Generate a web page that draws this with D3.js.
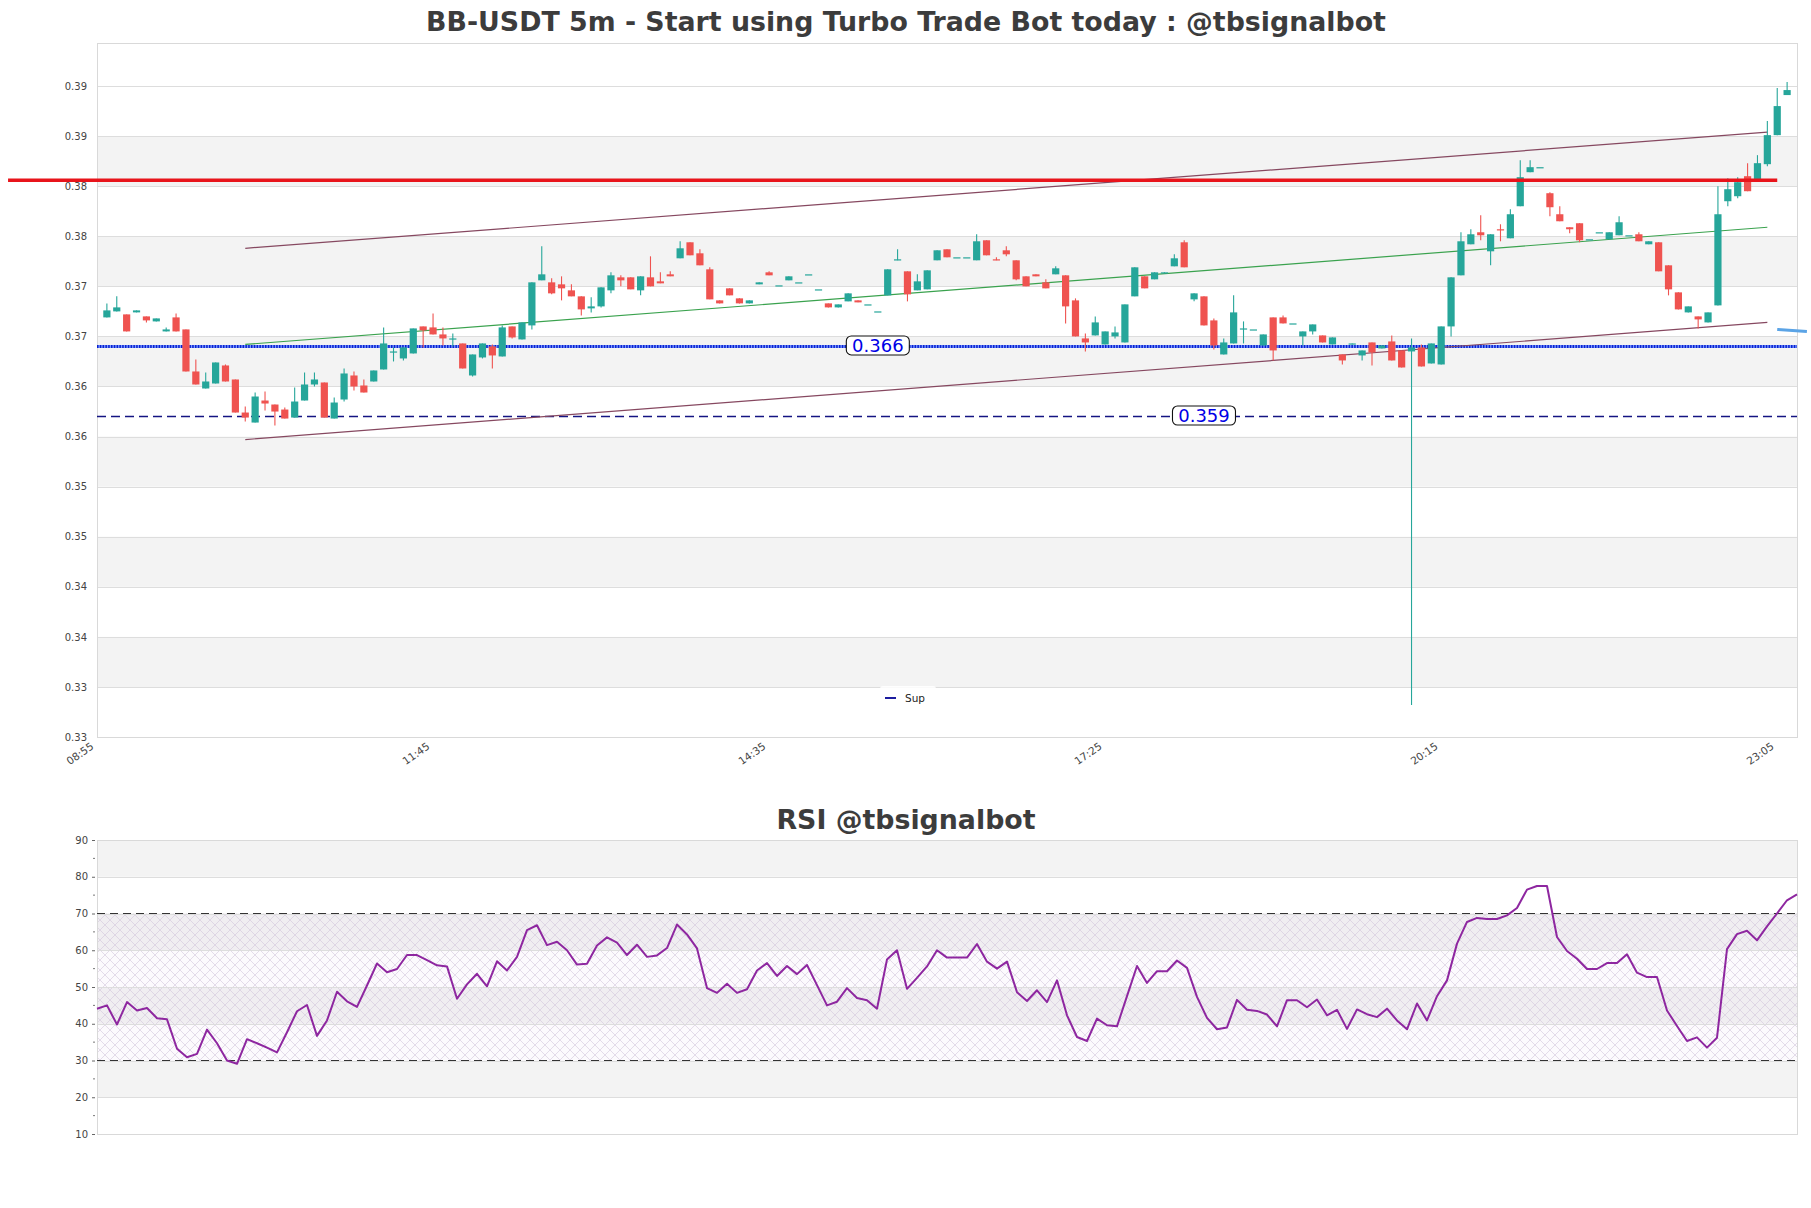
<!DOCTYPE html>
<html><head><meta charset="utf-8">
<script src="https://cdn.jsdelivr.net/npm/d3@7"></script>
<style>html,body{margin:0;padding:0;background:#fff;} svg{display:block;font-family:"DejaVu Sans",sans-serif;}</style>
</head><body>
<svg id="chart" width="1811" height="1208"></svg>
<script>
// ---------------- DATA ----------------
const startTime = "09:00";      // time of first candle, 5 min bars
const xTickLabels = ["08:55","11:45","14:35","17:25","20:15","23:05"];
const yTickValues = [0.327,0.332,0.337,0.342,0.347,0.352,0.357,0.362,0.367,0.372,0.377,0.382,0.387,0.392];
const rsiTickValues = [10,20,30,40,50,60,70,80,90];

const opens = [0.3689,0.3695,0.3692,0.3694,0.3690,0.3685,0.3675,0.3689,0.3677,0.3635,
0.3618,0.3623,0.3641,0.3627,0.3594,0.3584,0.3606,0.3602,0.3597,0.3589,
0.3606,0.3622,0.3624,0.3588,0.3607,0.3631,0.3621,0.3625,0.3637,0.3654,
0.3648,0.3653,0.3680,0.3679,0.3672,0.3667,0.3663,0.3631,0.3649,0.3660,
0.3650,0.3680,0.3667,0.3681,0.3726,0.3724,0.3722,0.3716,0.3710,0.3698,
0.3700,0.3716,0.3729,0.3729,0.3716,0.3729,0.3725,0.3732,0.3748,0.3764,
0.3753,0.3737,0.3706,0.3718,0.3708,0.3703,0.3722,0.3734,0.3721,0.3726,
0.3724,0.3732,0.3717,0.3703,0.3699,0.3705,0.3706,0.3702,0.3695,0.3711,
0.3746,0.3735,0.3716,0.3717,0.3746,0.3757,0.3749,0.3749,0.3746,0.3766,
0.3747,0.3756,0.3746,0.3730,0.3732,0.3724,0.3732,0.3731,0.3706,0.3668,
0.3671,0.3662,0.3670,0.3664,0.3710,0.3730,0.3727,0.3733,0.3740,0.3764,
0.3707,0.3710,0.3686,0.3652,0.3663,0.3677,0.3677,0.3661,0.3689,0.3689,
0.3683,0.3670,0.3675,0.3671,0.3662,0.3652,0.3662,0.3651,0.3664,0.3658,
0.3665,0.3656,0.3655,0.3659,0.3643,0.3642,0.3680,0.3731,0.3762,0.3774,
0.3755,0.3777,0.3768,0.3800,0.3834,0.3839,0.3813,0.3792,0.3779,0.3783,
0.3767,0.3774,0.3767,0.3771,0.3771,0.3772,0.3762,0.3764,0.3741,0.3714,
0.3694,0.3690,0.3684,0.3701,0.3805,0.3810,0.3830,0.3826,0.3842,0.3871,
0.3911];
const highs = [0.3703,0.3710,0.3692,0.3696,0.3690,0.3688,0.3679,0.3693,0.3677,0.3647,
0.3634,0.3644,0.3642,0.3627,0.3600,0.3614,0.3615,0.3602,0.3599,0.3619,
0.3634,0.3634,0.3624,0.3609,0.3638,0.3635,0.3627,0.3636,0.3679,0.3659,
0.3659,0.3678,0.3680,0.3693,0.3679,0.3673,0.3663,0.3652,0.3663,0.3662,
0.3681,0.3680,0.3684,0.3724,0.3760,0.3728,0.3730,0.3722,0.3710,0.3709,
0.3719,0.3734,0.3731,0.3729,0.3730,0.3750,0.3734,0.3735,0.3765,0.3764,
0.3757,0.3739,0.3706,0.3718,0.3708,0.3706,0.3724,0.3735,0.3721,0.3730,
0.3724,0.3732,0.3717,0.3703,0.3702,0.3713,0.3706,0.3702,0.3695,0.3737,
0.3757,0.3735,0.3732,0.3736,0.3756,0.3757,0.3749,0.3749,0.3772,0.3766,
0.3749,0.3760,0.3746,0.3730,0.3732,0.3727,0.3740,0.3731,0.3708,0.3673,
0.3690,0.3675,0.3680,0.3702,0.3739,0.3730,0.3734,0.3734,0.3752,0.3766,
0.3713,0.3710,0.3688,0.3668,0.3711,0.3685,0.3677,0.3672,0.3689,0.3691,
0.3683,0.3675,0.3682,0.3671,0.3669,0.3652,0.3663,0.3656,0.3664,0.3661,
0.3671,0.3656,0.3668,0.3662,0.3663,0.3680,0.3729,0.3774,0.3777,0.3791,
0.3772,0.3782,0.3797,0.3846,0.3846,0.3839,0.3814,0.3800,0.3779,0.3783,
0.3767,0.3774,0.3774,0.3790,0.3771,0.3774,0.3765,0.3764,0.3741,0.3714,
0.3700,0.3690,0.3694,0.3820,0.3828,0.3829,0.3843,0.3851,0.3885,0.3918,
0.3924];
const lows = [0.3689,0.3695,0.3675,0.3694,0.3684,0.3685,0.3675,0.3675,0.3635,0.3622,
0.3618,0.3623,0.3625,0.3594,0.3585,0.3584,0.3596,0.3581,0.3588,0.3589,
0.3606,0.3620,0.3589,0.3588,0.3605,0.3616,0.3614,0.3625,0.3637,0.3645,
0.3646,0.3653,0.3659,0.3672,0.3661,0.3660,0.3638,0.3630,0.3648,0.3638,
0.3650,0.3668,0.3667,0.3677,0.3726,0.3712,0.3706,0.3710,0.3691,0.3694,
0.3699,0.3713,0.3720,0.3717,0.3711,0.3720,0.3723,0.3730,0.3748,0.3751,
0.3741,0.3707,0.3703,0.3711,0.3703,0.3703,0.3722,0.3731,0.3721,0.3726,
0.3724,0.3732,0.3717,0.3699,0.3699,0.3705,0.3704,0.3702,0.3695,0.3711,
0.3746,0.3705,0.3716,0.3717,0.3746,0.3749,0.3749,0.3749,0.3746,0.3751,
0.3746,0.3750,0.3726,0.3720,0.3730,0.3718,0.3732,0.3683,0.3670,0.3655,
0.3671,0.3662,0.3668,0.3664,0.3710,0.3718,0.3727,0.3733,0.3740,0.3739,
0.3705,0.3681,0.3657,0.3652,0.3663,0.3663,0.3677,0.3661,0.3646,0.3683,
0.3683,0.3661,0.3672,0.3664,0.3662,0.3642,0.3662,0.3646,0.3641,0.3658,
0.3646,0.3639,0.3302,0.3640,0.3643,0.3642,0.3670,0.3731,0.3762,0.3766,
0.3741,0.3765,0.3768,0.3800,0.3834,0.3839,0.3790,0.3785,0.3773,0.3764,
0.3767,0.3774,0.3767,0.3771,0.3771,0.3765,0.3762,0.3735,0.3711,0.3697,
0.3694,0.3678,0.3684,0.3701,0.3800,0.3808,0.3815,0.3826,0.3840,0.3871,
0.3911];
const closes = [0.3696,0.3699,0.3675,0.3696,0.3686,0.3688,0.3677,0.3675,0.3635,0.3622,
0.3625,0.3644,0.3625,0.3594,0.3589,0.3610,0.3603,0.3595,0.3588,0.3605,
0.3622,0.3627,0.3589,0.3604,0.3633,0.3620,0.3614,0.3636,0.3663,0.3655,
0.3659,0.3678,0.3676,0.3672,0.3668,0.3668,0.3638,0.3652,0.3663,0.3651,
0.3679,0.3669,0.3684,0.3724,0.3732,0.3713,0.3718,0.3710,0.3697,0.3700,
0.3719,0.3731,0.3726,0.3717,0.3730,0.3720,0.3723,0.3730,0.3758,0.3751,
0.3741,0.3707,0.3703,0.3711,0.3703,0.3706,0.3724,0.3731,0.3721,0.3730,
0.3724,0.3732,0.3717,0.3699,0.3702,0.3713,0.3704,0.3702,0.3695,0.3737,
0.3747,0.3712,0.3725,0.3736,0.3756,0.3749,0.3749,0.3749,0.3765,0.3751,
0.3746,0.3752,0.3727,0.3720,0.3730,0.3718,0.3738,0.3700,0.3670,0.3664,
0.3684,0.3675,0.3674,0.3702,0.3739,0.3718,0.3734,0.3734,0.3748,0.3739,
0.3713,0.3681,0.3661,0.3664,0.3694,0.3678,0.3677,0.3672,0.3656,0.3683,
0.3683,0.3675,0.3682,0.3664,0.3669,0.3646,0.3663,0.3656,0.3654,0.3661,
0.3646,0.3639,0.3659,0.3640,0.3663,0.3680,0.3729,0.3765,0.3772,0.3771,
0.3772,0.3776,0.3792,0.3829,0.3839,0.3839,0.3799,0.3785,0.3777,0.3766,
0.3767,0.3774,0.3774,0.3784,0.3771,0.3765,0.3765,0.3735,0.3717,0.3697,
0.3700,0.3687,0.3694,0.3792,0.3817,0.3824,0.3815,0.3843,0.3871,0.3900,
0.3916];

const rsiValues = [44.1,45.0,39.8,45.9,43.6,44.3,41.5,41.2,33.2,30.9,
31.8,38.4,34.7,30.0,29.1,35.8,34.7,33.5,32.2,37.7,
43.4,45.1,36.7,40.9,48.7,46.1,44.6,50.4,56.4,54.0,
54.9,58.7,58.7,57.3,55.9,55.6,46.8,50.7,53.6,50.2,
57.0,54.5,58.2,65.5,66.8,61.4,62.3,60.0,56.1,56.3,
61.3,63.5,62.1,58.7,61.5,58.2,58.6,60.6,67.0,64.3,
60.5,49.7,48.4,50.9,48.4,49.4,54.5,56.5,53.0,55.7,
53.5,56.0,50.5,45.0,46.0,49.7,47.0,46.4,44.1,57.5,
60.0,49.5,52.5,55.6,60.0,58.0,58.0,58.0,61.7,56.9,
55.0,56.9,48.6,46.2,49.1,45.9,51.8,42.3,36.4,35.3,
41.4,39.6,39.3,47.5,55.7,51.1,54.3,54.3,57.2,55.2,
47.3,41.6,38.5,39.0,46.5,43.8,43.5,42.5,39.3,46.4,
46.4,44.5,46.6,42.3,43.8,38.6,43.9,42.6,41.8,44.1,
40.9,38.5,45.5,40.9,47.5,51.8,61.8,67.7,68.8,68.5,
68.5,69.5,71.5,76.5,77.5,77.5,63.6,59.8,57.7,54.9,
54.9,56.5,56.5,58.9,53.9,52.7,52.7,43.6,39.4,35.3,
36.3,33.5,36.2,60.3,64.4,65.3,62.7,66.5,70.0,73.6,
75.2];

// levels and trend lines (price units, x in candle index)
const resistanceLevel = 0.3826, resistanceSpan = [-10, 169];
const levelDotted = 0.366, levelDashed = 0.359;
const channelSpan = [14, 168];
const channelUpper = [0.3758, 0.3874];
const channelMiddle = [0.3662, 0.3779];
const channelLower = [0.3567, 0.3684];
const lastLevelSpan = [169, 172], lastLevel = [0.3677, 0.3675];
const rsiUpper = 70, rsiLower = 30;
const legendLabel = "Sup";

// ---------------- DRAW ----------------
const svg = d3.select("#chart");
const M = {l:97, r:1797, t:43, b:737};
const R = {t:840, b:1134};
const green = "#26a69a", red = "#ef5350";

const toMin = s => { const [h,m] = s.split(":").map(Number); return h*60+m; };
const tickIdx = xTickLabels.map(s => (toMin(s) - toMin(startTime)) / 5);

const x = d3.scaleLinear().domain([-1, 171]).range([M.l, M.r]);
const y = d3.scaleLinear().domain([0.327, 0.3963]).range([M.b, M.t]);
const defs = svg.append("defs");
defs.append("clipPath").attr("id","clipMain").append("rect")
  .attr("x",M.l).attr("y",M.t).attr("width",M.r-M.l).attr("height",M.b-M.t);

// title
svg.append("text").attr("x",906).attr("y",31).attr("text-anchor","middle")
  .attr("font-size",26.8).attr("font-weight","bold").attr("fill","#3c3c3c")
  .text("BB-USDT 5m - Start using Turbo Trade Bot today : @tbsignalbot");

// bands
for (let k=0;k<yTickValues.length-1;k++){
  if (k%2===1) svg.append("rect").attr("x",M.l).attr("width",M.r-M.l)
    .attr("y",y(yTickValues[k+1])).attr("height",y(yTickValues[k])-y(yTickValues[k+1]))
    .attr("fill","#f3f3f3");
}
// grid
svg.append("g").selectAll("line").data(yTickValues).join("line")
  .attr("x1",M.l).attr("x2",M.r).attr("y1",d=>Math.round(y(d))+0.5).attr("y2",d=>Math.round(y(d))+0.5)
  .attr("stroke","#dddddd").attr("stroke-width",1);
// frame
svg.append("rect").attr("x",M.l+0.5).attr("y",M.t+0.5).attr("width",M.r-M.l).attr("height",M.b-M.t)
  .attr("fill","none").attr("stroke","#d9d9d9");

// y axis
const yAxis = svg.append("g").attr("transform",`translate(${M.l},0)`)
  .call(d3.axisLeft(y).tickValues(yTickValues).tickFormat(d3.format(".2f")).tickSize(0).tickPadding(10));
yAxis.select(".domain").remove();
yAxis.selectAll("text").attr("font-size",10).attr("fill","#444").attr("font-family","DejaVu Sans");

// x axis
const xAxis = svg.append("g").attr("transform",`translate(0,${M.b})`)
  .call(d3.axisBottom(x).tickValues(tickIdx).tickFormat((d,i)=>xTickLabels[i]).tickSize(0));
xAxis.select(".domain").remove();
xAxis.selectAll("text").attr("font-size",10.5).attr("fill","#444").attr("font-family","DejaVu Sans")
  .attr("text-anchor","end").attr("dy",0).attr("y",0)
  .attr("transform","translate(-3,11) rotate(-35)");

const main = svg.append("g").attr("clip-path","url(#clipMain)");

// dashed level
main.append("line").attr("x1",M.l).attr("x2",M.r).attr("y1",y(levelDashed)).attr("y2",y(levelDashed))
  .attr("stroke","#141482").attr("stroke-width",1.4).attr("stroke-dasharray","9,5");
// dotted level
main.append("line").attr("x1",M.l).attr("x2",M.r).attr("y1",y(levelDotted)).attr("y2",y(levelDotted))
  .attr("stroke","#7a9cff").attr("stroke-width",3);
main.append("line").attr("x1",M.l).attr("x2",M.r).attr("y1",y(levelDotted)).attr("y2",y(levelDotted))
  .attr("stroke","#0a1fd0").attr("stroke-width",3).attr("stroke-dasharray","1.5,1.3");

// channel
const chan = (vals, col, w) => main.append("line")
  .attr("x1",x(channelSpan[0])).attr("x2",x(channelSpan[1]))
  .attr("y1",y(vals[0])).attr("y2",y(vals[1])).attr("stroke",col).attr("stroke-width",w);
chan(channelUpper,"#864860",1.2);
chan(channelLower,"#864860",1.2);
chan(channelMiddle,"#3aa24e",1.2);

// candles
const candles = opens.map((o,i)=>({i,o,h:highs[i],l:lows[i],c:closes[i]}));
const cg = main.append("g");
cg.selectAll("line").data(candles).join("line")
  .attr("x1",d=>x(d.i)).attr("x2",d=>x(d.i)).attr("y1",d=>y(d.h)).attr("y2",d=>y(d.l))
  .attr("stroke",d=>d.c>=d.o?green:red).attr("stroke-width",1.1);
cg.selectAll("rect").data(candles).join("rect")
  .attr("x",d=>x(d.i)-3.6).attr("width",7.2)
  .attr("y",d=>y(Math.max(d.o,d.c)))
  .attr("height",d=>Math.max(1.2, Math.abs(y(d.o)-y(d.c))))
  .attr("fill",d=>d.c>=d.o?green:red);

// resistance (extends past axis)
svg.append("line").attr("x1",x(resistanceSpan[0])).attr("x2",x(resistanceSpan[1]))
  .attr("y1",y(resistanceLevel)).attr("y2",y(resistanceLevel))
  .attr("stroke","#e8141b").attr("stroke-width",3.5);
// last short level
svg.append("line").attr("x1",x(lastLevelSpan[0])).attr("x2",x(lastLevelSpan[1]))
  .attr("y1",y(lastLevel[0])).attr("y2",y(lastLevel[1]))
  .attr("stroke","#5ba4e6").attr("stroke-width",3);

// level labels
const levelLabel = (val, idx) => {
  const g = svg.append("g").attr("transform",`translate(${x(idx)},${y(val)-1})`);
  g.append("rect").attr("x",-31.5).attr("y",-9.5).attr("width",63).attr("height",19).attr("rx",5)
    .attr("fill","#fff").attr("stroke","#111").attr("stroke-width",1.1);
  g.append("text").attr("text-anchor","middle").attr("y",6.5).attr("font-size",18)
    .attr("fill","#0000e6").text(d3.format(".3f")(val));
};
levelLabel(levelDotted, 78);
levelLabel(levelDashed, 111);

// legend
const lg = svg.append("g");
lg.append("rect").attr("x",880).attr("y",686).attr("width",56).attr("height",22).attr("rx",3)
  .attr("fill","#fff").attr("opacity",0.85);
lg.append("line").attr("x1",885).attr("x2",896).attr("y1",698).attr("y2",698)
  .attr("stroke","#1c1c9f").attr("stroke-width",2);
lg.append("text").attr("x",905).attr("y",701.5).attr("font-size",10.5).attr("fill","#222").text(legendLabel);

// ---------------- RSI ----------------
const xr = d3.scaleLinear().domain([0, rsiValues.length-1]).range([M.l, M.r]);
const yr = d3.scaleLinear().domain([10, 90]).range([R.b, R.t]);

svg.append("text").attr("x",906).attr("y",829).attr("text-anchor","middle")
  .attr("font-size",26.8).attr("font-weight","bold").attr("fill","#3c3c3c").text("RSI @tbsignalbot");

[[80,90],[60,70],[40,50],[20,30]].forEach(([a,b])=>{
  svg.append("rect").attr("x",M.l).attr("width",M.r-M.l).attr("y",yr(b)).attr("height",yr(a)-yr(b)).attr("fill","#f3f3f3");
});
const pat = defs.append("pattern").attr("id","hatch").attr("width",10).attr("height",10)
  .attr("patternUnits","userSpaceOnUse");
pat.append("path").attr("d","M0,0L10,10M10,0L0,10M-1,9L1,11M9,-1L11,1").attr("stroke","#d2c6dc").attr("stroke-width",0.6);
svg.append("rect").attr("x",M.l).attr("width",M.r-M.l).attr("y",yr(rsiUpper)).attr("height",yr(rsiLower)-yr(rsiUpper))
  .attr("fill","rgba(190,160,210,0.05)");
svg.append("rect").attr("x",M.l).attr("width",M.r-M.l).attr("y",yr(rsiUpper)).attr("height",yr(rsiLower)-yr(rsiUpper))
  .attr("fill","url(#hatch)");

svg.append("g").selectAll("line").data(rsiTickValues).join("line")
  .attr("x1",M.l).attr("x2",M.r).attr("y1",d=>Math.round(yr(d))+0.5).attr("y2",d=>Math.round(yr(d))+0.5)
  .attr("stroke","#dddddd");
svg.append("rect").attr("x",M.l+0.5).attr("y",R.t+0.5).attr("width",M.r-M.l).attr("height",R.b-R.t)
  .attr("fill","none").attr("stroke","#d9d9d9");

[rsiUpper, rsiLower].forEach(v=>{
  svg.append("line").attr("x1",M.l).attr("x2",M.r).attr("y1",yr(v)).attr("y2",yr(v))
    .attr("stroke","#333").attr("stroke-width",1.2).attr("stroke-dasharray","8,5");
});

const rAxis = svg.append("g").attr("transform",`translate(${M.l-2},0)`)
  .call(d3.axisLeft(yr).tickValues(rsiTickValues).tickSize(3).tickPadding(4));
rAxis.select(".domain").remove();
rAxis.selectAll("line").attr("stroke","#666");
rAxis.selectAll("text").attr("font-size",10).attr("fill","#444").attr("font-family","DejaVu Sans");
const minor = d3.range(15, 90, 10);
svg.append("g").selectAll("line").data(minor).join("line")
  .attr("x1",M.l-4).attr("x2",M.l-2).attr("y1",d=>yr(d)).attr("y2",d=>yr(d)).attr("stroke","#777");

svg.append("path").datum(rsiValues)
  .attr("d", d3.line().x((d,i)=>xr(i)).y(d=>yr(d)))
  .attr("fill","none").attr("stroke","#8e27a0").attr("stroke-width",2).attr("stroke-linejoin","round");
</script>
</body></html>
